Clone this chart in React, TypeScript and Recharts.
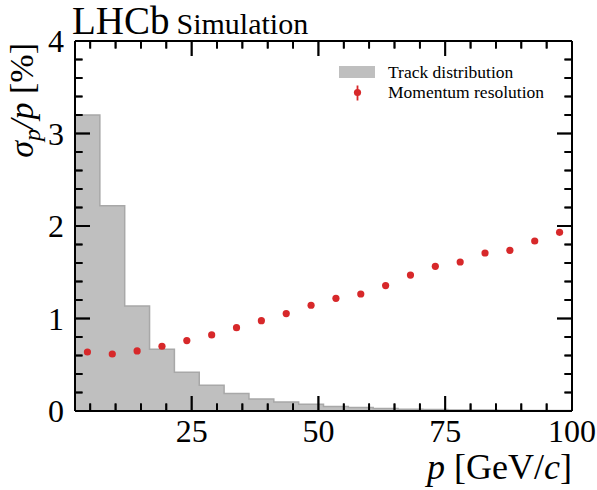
import React from 'react';
import { ComposedChart, Area, Scatter, XAxis, YAxis } from 'recharts';

if (typeof document !== 'undefined' && document.body) {
  document.body.style.margin = '0';
}

// Histogram bin edges (GeV/c) and track-distribution heights
const binEdges = [2, 6.9, 11.8, 16.7, 21.6, 26.5, 31.4, 36.3, 41.2, 46.1, 51, 55.9, 60.8, 65.7, 70.6, 75.5, 80.4, 85.3, 90.2, 95.1, 100];
const trackHeights = [3.2, 2.22, 1.135, 0.667, 0.418, 0.278, 0.188, 0.13, 0.097, 0.072, 0.05, 0.037, 0.026, 0.02, 0.015, 0.012, 0.01, 0.008, 0.006, 0.005];

// Momentum resolution points
const binCenters = [4.45, 9.35, 14.25, 19.15, 24.05, 28.95, 33.85, 38.75, 43.65, 48.55, 53.45, 58.35, 63.25, 68.15, 73.05, 77.95, 82.85, 87.75, 92.65, 97.55];
const resolution = [0.638, 0.616, 0.649, 0.7, 0.761, 0.822, 0.901, 0.977, 1.053, 1.143, 1.218, 1.265, 1.356, 1.47, 1.564, 1.611, 1.708, 1.737, 1.838, 1.932];

// Ticks
const xTicks = [5, 10, 15, 20, 25, 30, 35, 40, 45, 50, 55, 60, 65, 70, 75, 80, 85, 90, 95, 100];
const xMajor = [25, 50, 75, 100];
const yTicks = [0, 0.2, 0.4, 0.6, 0.8, 1, 1.2, 1.4, 1.6, 1.8, 2, 2.2, 2.4, 2.6, 2.8, 3, 3.2, 3.4, 3.6, 3.8, 4];
const yMajor = [0, 1, 2, 3, 4];
const xDomain = [2, 100];
const yDomain = [0, 4];

const isMajor = (v: number, list: number[]) => list.some((m) => Math.abs(m - v) < 1e-6);

const histData = binEdges.map((e, i) => ({ p: e, tracks: trackHeights[Math.min(i, trackHeights.length - 1)] }));
const resData = binCenters.map((c, i) => ({ p: c, res: resolution[i] }));

// tick-mark positions placed through the chart scales
const bottomMarks = xTicks.map((v) => ({ p: v, v: yDomain[0], major: isMajor(v, xMajor) }));
const topMarks = xTicks.map((v) => ({ p: v, v: yDomain[1], major: isMajor(v, xMajor) }));
const leftMarks = yTicks.map((v) => ({ p: xDomain[0], v, major: isMajor(v, yMajor) }));
const rightMarks = yTicks.map((v) => ({ p: xDomain[1], v, major: isMajor(v, yMajor) }));

const FONT = 'Liberation Serif, Times New Roman, serif';
const RED = '#d7282a';

const markShape = (dir: string) => (props: any) => {
  const { cx, cy, payload } = props;
  const len = payload && payload.major ? 15 : 7.5;
  let d = `M${cx},${cy}V${cy - len}`;
  if (dir === 'down') d = `M${cx},${cy}V${cy + len}`;
  if (dir === 'right') d = `M${cx},${cy}H${cx + len}`;
  if (dir === 'left') d = `M${cx},${cy}H${cx - len}`;
  return <path d={d} stroke="#000" strokeWidth={1.8} fill="none" />;
};

const bottomTick = (props: any) => {
  const { x, y, payload } = props;
  const major = isMajor(payload.value, xMajor);
  return (
    <g>
      <path d={`M${x},${y}V${y - (major ? 15 : 7.5)}`} stroke="#000" strokeWidth={1.8} fill="none" />
      {major && (
        <text x={x} y={y + 31} textAnchor="middle" fontFamily={FONT} fontSize={32} fill="#000">
          {payload.value}
        </text>
      )}
    </g>
  );
};

const topTick = (props: any) => {
  const { x, y, payload } = props;
  const major = isMajor(payload.value, xMajor);
  return <path d={`M${x},${y}V${y + (major ? 15 : 7.5)}`} stroke="#000" strokeWidth={1.8} fill="none" />;
};

const leftTick = (props: any) => {
  const { x, y, payload } = props;
  const major = isMajor(payload.value, yMajor);
  return (
    <g>
      <path d={`M${x},${y}H${x + (major ? 15 : 7.5)}`} stroke="#000" strokeWidth={1.8} fill="none" />
      {major && (
        <text x={x - 11} y={y + 11} textAnchor="end" fontFamily={FONT} fontSize={32} fill="#000">
          {payload.value}
        </text>
      )}
    </g>
  );
};

const rightTick = (props: any) => {
  const { x, y, payload } = props;
  const major = isMajor(payload.value, yMajor);
  return <path d={`M${x},${y}H${x - (major ? 15 : 7.5)}`} stroke="#000" strokeWidth={1.8} fill="none" />;
};

const Dot = (props: any) => {
  const { cx, cy } = props;
  return <circle cx={cx} cy={cy} r={3.6} fill={RED} />;
};

// title + legend
const TitleLabel = () => (
  <g>
    <text x={72} y={34} fontFamily={FONT} fill="#000">
      <tspan fontSize={39}>LHCb</tspan>
      <tspan fontSize={30} dx={7}>Simulation</tspan>
    </text>
    <g transform="translate(330,58)">
      <rect x={9} y={8} width={36} height={12} fill="#bfbfbf" />
      <text x={58} y={20} fontFamily={FONT} fontSize={17.5} fill="#000">Track distribution</text>
      <line x1={27.5} y1={27.5} x2={27.5} y2={42.5} stroke={RED} strokeWidth={1.8} />
      <circle cx={27.5} cy={34.5} r={3.6} fill={RED} />
      <text x={58} y={40} fontFamily={FONT} fontSize={17.5} fill="#000">Momentum resolution</text>
    </g>
  </g>
);

const YLabel = () => (
  <text transform="translate(33,43) rotate(-90)" textAnchor="end" fontFamily={FONT} fontSize={34} fill="#000">
    <tspan fontStyle="italic">σ</tspan>
    <tspan fontStyle="italic" fontSize={24} dy={7}>p</tspan>
    <tspan fontStyle="italic" dy={-7}>/p</tspan>
    <tspan> [%]</tspan>
  </text>
);

const XLabel = () => (
  <text x={572} y={479} textAnchor="end" fontFamily={FONT} fontSize={36} fill="#000">
    <tspan fontStyle="italic">p</tspan>
    <tspan> [GeV/</tspan>
    <tspan fontStyle="italic">c</tspan>
    <tspan>]</tspan>
  </text>
);

const none = () => <g />;

export default function App() {
  return (
    <ComposedChart width={597} height={490} margin={{ top: 40, right: 24, left: 0, bottom: 0 }}>
      <XAxis
        xAxisId="b"
        dataKey="p"
        type="number"
        domain={xDomain}
        allowDataOverflow
        ticks={xTicks}
        interval={0}
        height={79}
        tickSize={0}
        tickMargin={0}
        tickLine={false}
        tick={bottomTick}
        axisLine={{ stroke: '#000', strokeWidth: 2 }}
        label={<XLabel />}
      />
      <XAxis
        xAxisId="t"
        orientation="top"
        dataKey="p"
        type="number"
        domain={xDomain}
        allowDataOverflow
        ticks={xTicks}
        interval={0}
        height={1}
        tickSize={0}
        tickMargin={0}
        tickLine={false}
        tick={topTick}
        axisLine={{ stroke: '#000', strokeWidth: 2 }}
        label={<TitleLabel />}
      />
      <YAxis
        yAxisId="l"
        type="number"
        domain={yDomain}
        allowDataOverflow
        ticks={yTicks}
        interval={0}
        width={75}
        tickSize={0}
        tickMargin={0}
        tickLine={false}
        tick={leftTick}
        axisLine={{ stroke: '#000', strokeWidth: 2 }}
        label={<YLabel />}
      />
      <YAxis
        yAxisId="r"
        orientation="right"
        type="number"
        domain={yDomain}
        allowDataOverflow
        ticks={yTicks}
        interval={0}
        width={1}
        tickSize={0}
        tickMargin={0}
        tickLine={false}
        tick={rightTick}
        axisLine={{ stroke: '#000', strokeWidth: 2 }}
      />
      <Area
        xAxisId="b"
        yAxisId="l"
        data={histData}
        dataKey="tracks"
        type="stepAfter"
        fill="#bfbfbf"
        fillOpacity={1}
        stroke="#a8a8a8"
        strokeWidth={1.5}
        isAnimationActive={false}
        name="Track distribution"
      />
      <Scatter
        xAxisId="b"
        yAxisId="l"
        data={resData}
        dataKey="res"
        fill={RED}
        shape={<Dot />}
        isAnimationActive={false}
        name="Momentum resolution"
      />
      <Scatter xAxisId="b" yAxisId="l" data={bottomMarks} dataKey="v" shape={markShape('up')} isAnimationActive={false} legendType="none" />
      <Scatter xAxisId="b" yAxisId="l" data={topMarks} dataKey="v" shape={markShape('down')} isAnimationActive={false} legendType="none" />
      <Scatter xAxisId="b" yAxisId="l" data={leftMarks} dataKey="v" shape={markShape('right')} isAnimationActive={false} legendType="none" />
      <Scatter xAxisId="b" yAxisId="l" data={rightMarks} dataKey="v" shape={markShape('left')} isAnimationActive={false} legendType="none" />
      <Scatter xAxisId="t" yAxisId="r" data={resData} dataKey="res" fill="none" shape={none} isAnimationActive={false} legendType="none" />
    </ComposedChart>
  );
}
